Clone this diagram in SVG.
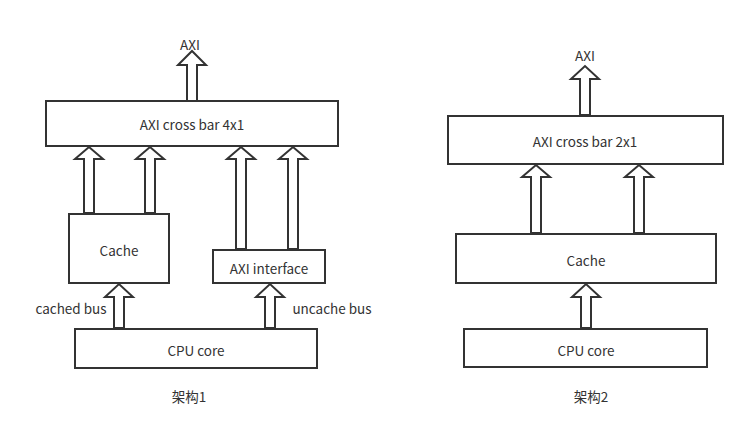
<svg xmlns="http://www.w3.org/2000/svg" width="748" height="440" viewBox="0 0 748 440">
<style>
.box{fill:#fff;stroke:#333;stroke-width:2}
.arr{fill:#fff;stroke:#333;stroke-width:2;stroke-linejoin:miter}
text{font-family:"Noto Sans CJK SC","Noto Sans",sans-serif;font-size:13.5px;fill:#333;text-anchor:middle;dominant-baseline:central}
</style>
<rect width="748" height="440" fill="#fff"/>
<g id="connectors">
<path class="arr" d="M187,101 V65 H178 L192,51 L206,65 H197 V101 Z"/>
<path class="arr" d="M84,213 V159 H75 L89,147 L103,159 H94 V213 Z"/>
<path class="arr" d="M145,213 V159 H136 L150,147 L164,159 H155 V213 Z"/>
<path class="arr" d="M236,249 V159 H227 L241,147 L255,159 H246 V249 Z"/>
<path class="arr" d="M288,249 V159 H279 L293,147 L307,159 H298 V249 Z"/>
<path class="arr" d="M114,328 V297 H105 L119,284 L133,297 H124 V328 Z"/>
<path class="arr" d="M265,328 V297 H256 L270,284 L284,297 H275 V328 Z"/>
<path class="arr" d="M580,115 V79 H571 L585,66 L599,79 H590 V115 Z"/>
<path class="arr" d="M531,233 V177 H522 L536,165 L550,177 H541 V233 Z"/>
<path class="arr" d="M634,233 V177 H625 L639,165 L653,177 H644 V233 Z"/>
<path class="arr" d="M581,328 V297 H572 L586,284 L600,297 H591 V328 Z"/>
</g>
<text x="190" y="44">AXI</text>
<g id="xbar4"><rect class="box" x="46" y="101" width="292" height="45"/><text x="192" y="124">AXI cross bar 4x1</text></g>
<g id="cache1"><rect class="box" x="69" y="214" width="100" height="69"/><text x="119" y="250">Cache</text></g>
<g id="axiif"><rect class="box" x="213" y="250" width="112" height="33"/><text x="269" y="268">AXI interface</text></g>
<g id="cpu1"><rect class="box" x="75" y="329" width="242" height="39"/><text x="196" y="350">CPU core</text></g>
<text x="71" y="308">cached bus</text>
<text x="332" y="308">uncache bus</text>
<text x="189" y="396">架构1</text>
<text x="585" y="55">AXI</text>
<g id="xbar2"><rect class="box" x="448" y="116" width="275" height="48"/><text x="585" y="141">AXI cross bar 2x1</text></g>
<g id="cache2"><rect class="box" x="456" y="234" width="260" height="49"/><text x="586" y="260">Cache</text></g>
<g id="cpu2"><rect class="box" x="464" y="329" width="243" height="38"/><text x="586" y="350">CPU core</text></g>
<text x="591" y="396">架构2</text>
</svg>
